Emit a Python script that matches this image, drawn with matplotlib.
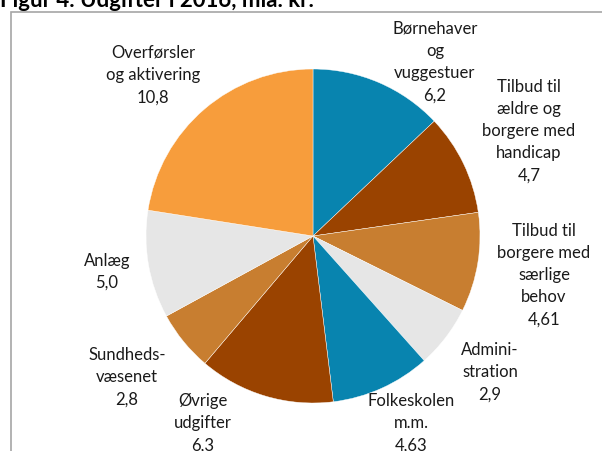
import matplotlib
matplotlib.use("Agg")
from matplotlib import pyplot as plt
from matplotlib.patches import Rectangle

# data, clockwise from 12 o'clock
categories = [
    "Børnehaver\nog\nvuggestuer",
    "Tilbud til\nældre og\nborgere med\nhandicap",
    "Tilbud til\nborgere med\nsærlige\nbehov",
    "Admini-\nstration",
    "Folkeskolen\nm.m.",
    "Øvrige\nudgifter",
    "Sundheds-\nvæsenet",
    "Anlæg",
    "Overførsler\nog aktivering",
]
values = [6.2, 4.7, 4.61, 2.9, 4.63, 6.3, 2.8, 5.0, 10.8]
value_labels = ["6,2", "4,7", "4,61", "2,9", "4,63", "6,3", "2,8", "5,0", "10,8"]

colors = ["#0884AF", "#9A4300", "#C87E30", "#E6E6E6", "#0884AF",
          "#9A4300", "#C87E30", "#E6E6E6", "#F79D3C"]

# label block centres in pixels (x, y from top)
label_pos = [(435, 62), (529, 131), (544, 275), (490, 372), (411, 423),
             (203, 423), (127, 377), (107, 272), (153, 75)]

W, H = 602, 452
plt.rcParams['font.family'] = ['Lato', 'DejaVu Sans']
fig = plt.figure(figsize=(W / 100, H / 100), dpi=100)

# frame of the figure box
fig.patches.append(Rectangle((10.5 / W, -0.1), 1.2, 1 - 12.5 / H + 0.1,
                             transform=fig.transFigure, fill=False,
                             edgecolor="#A6A6A6", linewidth=1.2))

cx, cy, r = 313, 237, 167
ax = fig.add_axes([(cx - r) / W, (H - cy - r) / H, 2 * r / W, 2 * r / H])
ax.pie(values, colors=colors, startangle=90, counterclock=False, radius=1,
       wedgeprops=dict(edgecolor="white", linewidth=0.3))
ax.set_xlim(-1, 1)
ax.set_ylim(-1, 1)
ax.axis("off")

for cat, val, (px, py) in zip(categories, value_labels, label_pos):
    fig.text(px / W, 1 - py / H, cat + "\n" + val, ha="center", va="center",
             fontsize=12, linespacing=1.48, color="#1a1a1a")

fig.text(0.0, 1 - 7 / H, "Figur 4. Udgifter i 2016, mia. kr.", ha="left",
         va="baseline", fontsize=16, fontweight="bold", color="black")

fig.savefig("out.png", dpi=100)
